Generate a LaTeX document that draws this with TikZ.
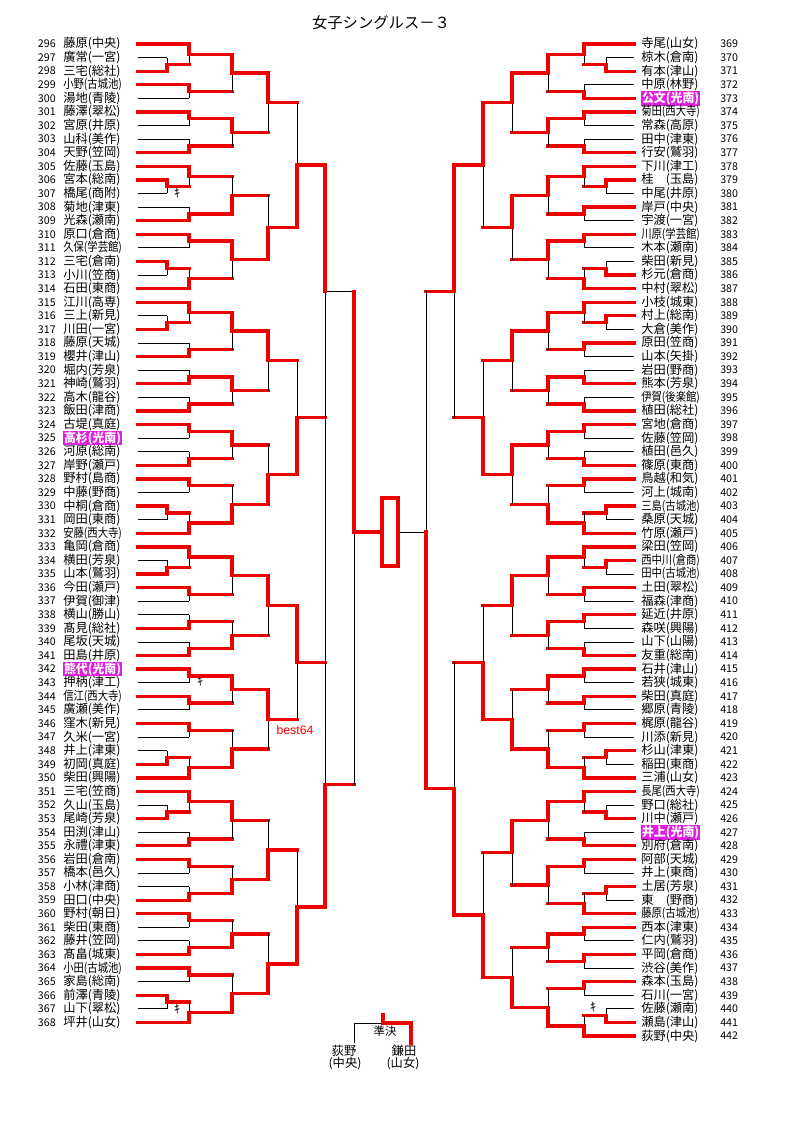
\documentclass[tikz,border=0pt]{standalone}
\usepackage{fontspec}
\setmainfont{Noto Sans CJK JP}
\newfontfamily\latinsans{Liberation Sans}
\usepackage{graphicx}
\definecolor{hlmag}{RGB}{224,32,224}
\definecolor{linered}{RGB}{236,0,0}

\tikzset{
  win/.style={draw=linered, line width=2.5pt, line cap=rect},
  lose/.style={draw=black, line width=0.7pt},
  pname/.style={inner sep=0pt, font=\fontsize{9.2}{10}\selectfont},
  pnum/.style={inner sep=0pt, font=\fontsize{8}{10}\selectfont},
  kimark/.style={inner sep=0pt, font=\fontsize{9}{10}\selectfont},
}

% squeeze long names into the cell
\newsavebox\namebox
\newcommand\fitname[1]{\sbox\namebox{#1}\ifdim\wd\namebox>44pt\relax\resizebox{44pt}{\height}{\usebox\namebox}\else\usebox\namebox\fi}
\newcommand\hlname[1]{{\setlength\fboxsep{0.6pt}\colorbox{hlmag}{\textcolor{white}{\bfseries #1}}}}

% one bout: join x, next x, top row, bottom row, winner (t/b)
\newcommand\bout[5]{%
  \pgfmathsetmacro\ymid{(#3+#4)/2}%
  \if#5t
    \draw[lose] (#1,\ymid) -- (#1,#4);
    \draw[win] (#1,#3) -- (#1,\ymid) -- (#2,\ymid);
  \else
    \draw[lose] (#1,\ymid) -- (#1,#3);
    \draw[win] (#1,#4) -- (#1,\ymid) -- (#2,\ymid);
  \fi}

\begin{document}
\begin{tikzpicture}[x=0.75pt,y=-0.75pt]
	\useasboundingbox (0,0) rectangle (794,1123);
	\node[font=\fontsize{11.5}{13}\selectfont] (title) at (381,23) {女子シングルス－３};

\begin{scope}[x=0.75pt, y=-10.1925pt, yshift=-33pt]
	% left half
	\foreach \k/\e/\c/\nm in {0/189/1/藤原(中央), 1/167/0/廣常(一宮), 2/167/1/三宅(総社), 3/189/1/小野(古城池),
		4/189/0/湯地(青陵), 5/189/1/藤澤(翠松), 6/189/0/宮原(井原), 7/189/0/山科(美作), 8/189/1/天野(笠岡),
		9/189/1/佐藤(玉島), 10/167/1/宮本(総南), 11/167/0/橋尾(商附), 12/189/0/菊地(津東), 13/189/1/光森(瀬南),
		14/189/1/原口(倉商), 15/189/0/久保(学芸館), 16/167/1/三宅(倉南), 17/167/0/小川(笠商), 18/189/1/石田(東商),
		19/189/1/江川(高専), 20/167/0/三上(新見), 21/167/1/川田(一宮), 22/189/0/藤原(天城), 23/189/1/櫻井(津山),
		24/189/0/堀内(芳泉), 25/189/1/神崎(鷲羽), 26/189/0/高木(龍谷), 27/189/1/飯田(津商), 28/189/1/古堤(真庭),
		29/189/0/\hlname{高杉(光南)}, 30/189/0/河原(総南), 31/189/1/岸野(瀬戸), 32/189/1/野村(島商), 33/189/0/中藤(野商),
		34/167/1/中桐(倉商), 35/167/0/岡田(東商), 36/189/1/安藤(西大寺), 37/189/1/亀岡(倉商), 38/167/0/横田(芳泉),
		39/167/1/山本(鷲羽), 40/189/1/今田(瀬戸), 41/189/0/伊賀(御津), 42/189/0/横山(勝山), 43/189/1/髙見(総社),
		44/189/0/尾坂(天城), 45/189/1/田島(井原), 46/189/1/\hlname{熊代(光南)}, 47/189/0/押柄(津工), 48/189/1/信江(西大寺),
		49/189/0/廣瀬(美作), 50/189/1/窪木(新見), 51/189/0/久米(一宮), 52/167/0/井上(津東), 53/167/1/初岡(真庭),
		54/189/1/柴田(興陽), 55/189/1/三宅(笠商), 56/167/0/久山(玉島), 57/167/1/尾崎(芳泉), 58/189/0/田渕(津山),
		59/189/1/永禮(津東), 60/189/1/岩田(倉南), 61/189/0/橋本(邑久), 62/189/0/小林(津商), 63/189/1/田口(中央),
		64/189/1/野村(朝日), 65/189/0/柴田(東商), 66/189/0/藤井(笠岡), 67/189/1/髙畠(城東), 68/189/1/小田(古城池),
		69/189/0/家島(総南), 70/167/1/前澤(青陵), 71/167/0/山下(翠松), 72/189/1/坪井(山女)}{
		\pgfmathtruncatemacro\num{296+\k}
		\node[pnum, anchor=east] (nL\num) at (56,\k) {\num};
		\node[pname, anchor=west] (L\num) at (63,\k) {\fitname{\nm}};
		\ifnum\c=1 \draw[win] (138,\k) -- (\e,\k); \else \draw[lose] (138,\k) -- (\e,\k); \fi
	}
	% right half
	\foreach \k/\e/\c/\nm in {0/584/1/寺尾(山女), 1/606/0/椋木(倉南), 2/606/1/有本(津山), 3/584/0/中原(林野),
		4/584/1/\hlname{公文(光南)}, 5/584/1/菊田(西大寺), 6/584/0/常森(高原), 7/584/0/田中(津東), 8/584/1/行安(鷲羽),
		9/584/1/下川(津工), 10/606/1/桂　(玉島), 11/606/0/中尾(井原), 12/584/1/岸戸(中央), 13/584/0/宇渡(一宮),
		14/584/1/川原(学芸館), 15/584/0/木本(瀬南), 16/606/0/柴田(新見), 17/606/1/杉元(倉商), 18/584/1/中村(翠松),
		19/584/1/小枝(城東), 20/606/1/村上(総南), 21/606/0/大倉(美作), 22/584/1/原田(笠商), 23/584/0/山本(矢掛),
		24/584/0/岩田(野商), 25/584/1/熊本(芳泉), 26/584/0/伊賀(後楽館), 27/584/1/植田(総社), 28/584/1/宮地(倉商),
		29/584/0/佐藤(笠岡), 30/584/0/植田(邑久), 31/584/1/篠原(東商), 32/584/1/鳥越(和気), 33/584/0/河上(城南),
		34/606/1/三島(古城池), 35/606/0/桑原(天城), 36/584/1/竹原(瀬戸), 37/584/1/梁田(笠岡), 38/606/1/西中川(倉商),
		39/606/0/田中(古城池), 40/584/1/土田(翠松), 41/584/0/福森(津商), 42/584/1/延近(井原), 43/584/0/森咲(興陽),
		44/584/0/山下(山陽), 45/584/1/友重(総南), 46/584/1/石井(津山), 47/584/0/若狭(城東), 48/584/1/柴田(真庭),
		49/584/0/郷原(青陵), 50/584/1/梶原(龍谷), 51/584/0/川添(新見), 52/606/1/杉山(津東), 53/606/0/稲田(東商),
		54/584/1/三浦(山女), 55/584/1/長尾(西大寺), 56/606/0/野口(総社), 57/606/1/川中(瀬戸), 58/584/0/\hlname{井上(光南)},
		59/584/1/別府(倉南), 60/584/1/阿部(天城), 61/584/0/井上(東商), 62/606/1/土居(芳泉), 63/606/0/東　(野商),
		64/584/1/藤原(古城池), 65/584/1/西本(津東), 66/584/0/仁内(鷲羽), 67/584/1/平岡(倉商), 68/584/0/渋谷(美作),
		69/584/1/森本(玉島), 70/584/0/石川(一宮), 71/606/0/佐藤(瀬南), 72/606/1/瀬島(津山), 73/584/1/荻野(中央)}{
		\pgfmathtruncatemacro\num{369+\k}
		\node[pnum, anchor=west] (nR\num) at (720,\k) {\num};
		\node[pname, anchor=west] (R\num) at (641,\k) {\fitname{\nm}};
		\ifnum\c=1 \draw[win] (634,\k) -- (\e,\k); \else \draw[lose] (634,\k) -- (\e,\k); \fi
	}

	% left: pre-rounds
	\bout{167}{189}{1}{2}{b} \bout{167}{189}{10}{11}{t} \bout{167}{189}{16}{17}{t}
	\bout{167}{189}{20}{21}{b} \bout{167}{189}{34}{35}{t} \bout{167}{189}{38}{39}{b}
	\bout{167}{189}{52}{53}{b} \bout{167}{189}{56}{57}{b} \bout{167}{189}{70}{71}{t}
	% left: round 1
	\bout{189}{232}{0}{1.5}{t} \bout{189}{232}{3}{4}{t} \bout{189}{232}{5}{6}{t} \bout{189}{232}{7}{8}{b}
	\bout{189}{232}{9}{10.5}{t} \bout{189}{232}{12}{13}{b} \bout{189}{232}{14}{15}{t} \bout{189}{232}{16.5}{18}{b}
	\bout{189}{232}{19}{20.5}{t} \bout{189}{232}{22}{23}{b} \bout{189}{232}{24}{25}{b} \bout{189}{232}{26}{27}{b}
	\bout{189}{232}{28}{29}{t} \bout{189}{232}{30}{31}{b} \bout{189}{232}{32}{33}{t} \bout{189}{232}{34.5}{36}{b}
	\bout{189}{232}{37}{38.5}{t} \bout{189}{232}{40}{41}{t} \bout{189}{232}{42}{43}{b} \bout{189}{232}{44}{45}{b}
	\bout{189}{232}{46}{47}{t} \bout{189}{232}{48}{49}{t} \bout{189}{232}{50}{51}{t} \bout{189}{232}{52.5}{54}{b}
	\bout{189}{232}{55}{56.5}{t} \bout{189}{232}{58}{59}{b} \bout{189}{232}{60}{61}{t} \bout{189}{232}{62}{63}{b}
	\bout{189}{232}{64}{65}{t} \bout{189}{232}{66}{67}{b} \bout{189}{232}{68}{69}{t} \bout{189}{232}{70.5}{72}{b}
	% left: round 2
	\bout{232}{268}{0.75}{3.5}{t} \bout{232}{268}{5.5}{7.5}{t} \bout{232}{268}{9.75}{12.5}{b} \bout{232}{268}{14.5}{17.25}{t}
	\bout{232}{268}{19.75}{22.5}{t} \bout{232}{268}{24.5}{26.5}{t} \bout{232}{268}{28.5}{30.5}{t} \bout{232}{268}{32.5}{35.25}{b}
	\bout{232}{268}{37.75}{40.5}{t} \bout{232}{268}{42.5}{44.5}{b} \bout{232}{268}{46.5}{48.5}{t} \bout{232}{268}{50.5}{53.25}{b}
	\bout{232}{268}{55.75}{58.5}{t} \bout{232}{268}{60.5}{62.5}{b} \bout{232}{268}{64.5}{66.5}{b} \bout{232}{268}{68.5}{71.25}{b}
	% left: round 3
	\bout{268}{297}{2.125}{6.5}{t} \bout{268}{297}{11.125}{15.875}{b} \bout{268}{297}{21.125}{25.5}{t} \bout{268}{297}{29.5}{33.875}{b}
	\bout{268}{297}{39.125}{43.5}{t} \bout{268}{297}{47.5}{51.875}{t} \bout{268}{297}{57.125}{61.5}{b} \bout{268}{297}{65.5}{69.875}{b}
	% left: round 4
	\bout{297}{325}{4.3125}{13.5}{b} \bout{297}{325}{23.3125}{31.6875}{b}
	\bout{297}{325}{41.3125}{49.6875}{t} \bout{297}{325}{59.3125}{67.6875}{b}
	% left: last two columns
	\draw[lose] (325,18.203) -- (354,18.203);
	\draw[lose] (325,18.203) -- (325,54.5);
	\draw[win] (325,8.906) -- (325,18.203);
	\draw[win] (325,63.5) -- (325,54.5) -- (354,54.5);
	\draw[lose] (354,35.91) -- (354,54.5);
	\draw[win] (354,18.203) -- (354,35.91) -- (382,35.91);

	% right: pre-rounds
	\bout{606}{584}{1}{2}{b} \bout{606}{584}{10}{11}{t} \bout{606}{584}{16}{17}{b} \bout{606}{584}{20}{21}{t}
	\bout{606}{584}{34}{35}{t} \bout{606}{584}{38}{39}{t} \bout{606}{584}{52}{53}{t} \bout{606}{584}{56}{57}{b}
	\bout{606}{584}{62}{63}{t} \bout{606}{584}{71}{72}{b}
	% right: round 1
	\bout{584}{548}{0}{1.5}{t} \bout{584}{548}{3}{4}{b} \bout{584}{548}{5}{6}{t} \bout{584}{548}{7}{8}{b}
	\bout{584}{548}{9}{10.5}{t} \bout{584}{548}{12}{13}{t} \bout{584}{548}{14}{15}{t} \bout{584}{548}{16.5}{18}{b}
	\bout{584}{548}{19}{20.5}{t} \bout{584}{548}{22}{23}{t} \bout{584}{548}{24}{25}{b} \bout{584}{548}{26}{27}{b}
	\bout{584}{548}{28}{29}{t} \bout{584}{548}{30}{31}{b} \bout{584}{548}{32}{33}{t} \bout{584}{548}{34.5}{36}{b}
	\bout{584}{548}{37}{38.5}{t} \bout{584}{548}{40}{41}{t} \bout{584}{548}{42}{43}{t} \bout{584}{548}{44}{45}{b}
	\bout{584}{548}{46}{47}{t} \bout{584}{548}{48}{49}{t} \bout{584}{548}{50}{51}{t} \bout{584}{548}{52.5}{54}{b}
	\bout{584}{548}{55}{56.5}{t} \bout{584}{548}{58}{59}{b} \bout{584}{548}{60}{61}{t} \bout{584}{548}{62.5}{64}{b}
	\bout{584}{548}{65}{66}{t} \bout{584}{548}{67}{68}{t} \bout{584}{548}{69}{70}{t} \bout{584}{548}{71.5}{73}{b}
	% right: round 2
	\bout{548}{512}{0.75}{3.5}{t} \bout{548}{512}{5.5}{7.5}{t} \bout{548}{512}{9.75}{12.5}{t} \bout{548}{512}{14.5}{17.25}{t}
	\bout{548}{512}{19.75}{22.5}{t} \bout{548}{512}{24.5}{26.5}{t} \bout{548}{512}{28.5}{30.5}{t} \bout{548}{512}{32.5}{35.25}{b}
	\bout{548}{512}{37.75}{40.5}{t} \bout{548}{512}{42.5}{44.5}{t} \bout{548}{512}{46.5}{48.5}{t} \bout{548}{512}{50.5}{53.25}{b}
	\bout{548}{512}{55.75}{58.5}{t} \bout{548}{512}{60.5}{63.25}{t} \bout{548}{512}{65.5}{67.5}{t} \bout{548}{512}{69.5}{72.25}{b}
	% right: round 3
	\bout{512}{483}{2.125}{6.5}{t} \bout{512}{483}{11.125}{15.875}{t} \bout{512}{483}{21.125}{25.5}{t} \bout{512}{483}{29.5}{33.875}{t}
	\bout{512}{483}{39.125}{43.5}{t} \bout{512}{483}{47.5}{51.875}{b} \bout{512}{483}{57.125}{61.875}{t} \bout{512}{483}{66.5}{70.875}{b}
	% right: round 4
	\bout{483}{454}{4.3125}{13.5}{t} \bout{483}{454}{23.3125}{31.6875}{b}
	\bout{483}{454}{41.3125}{49.6875}{b} \bout{483}{454}{59.5}{68.6875}{b}
	% right: last two columns
	\draw[lose] (454,18.203) -- (454,27.5);
	\draw[win] (454,8.906) -- (454,18.203) -- (426,18.203);
	\draw[lose] (454,45.5) -- (454,54.797);
	\draw[win] (454,64.094) -- (454,54.797) -- (426,54.797);
	\draw[lose] (426,18.203) -- (426,35.91) -- (398,35.91);
	\draw[win] (426,35.91) -- (426,54.797);

	% final box
	\draw[win, line cap=butt] (382,33.41) rectangle (398,38.41);

	% withdrawals
	\node[kimark] (ki307) at (177,11) {ｷ};
	\node[kimark] (ki343) at (200,46.9) {ｷ};
	\node[kimark] (ki367) at (177,71) {ｷ};
	\node[kimark] (ki440) at (593,70.9) {ｷ};
\end{scope}

	\node[text=linered, inner sep=0pt, font=\latinsans\fontsize{9.2}{10}\selectfont] (best) at (295,730) {best64};

	% semifinal stub
	\draw[lose] (354,1043) -- (354,1023) -- (383,1023);
	\draw[win] (383,1015) -- (383,1023) -- (411,1023) -- (411,1043);
	\node[pname, font=\fontsize{8.5}{10}\selectfont] (semi) at (385,1031) {準決};
	\node[pname] (sfA) at (344,1051) {荻野};
	\node[pname] (sfAs) at (345,1064) {(中央)};
	\node[pname] (sfB) at (404,1051) {鎌田};
	\node[pname] (sfBs) at (403,1064) {(山女)};
\end{tikzpicture}
\end{document}
